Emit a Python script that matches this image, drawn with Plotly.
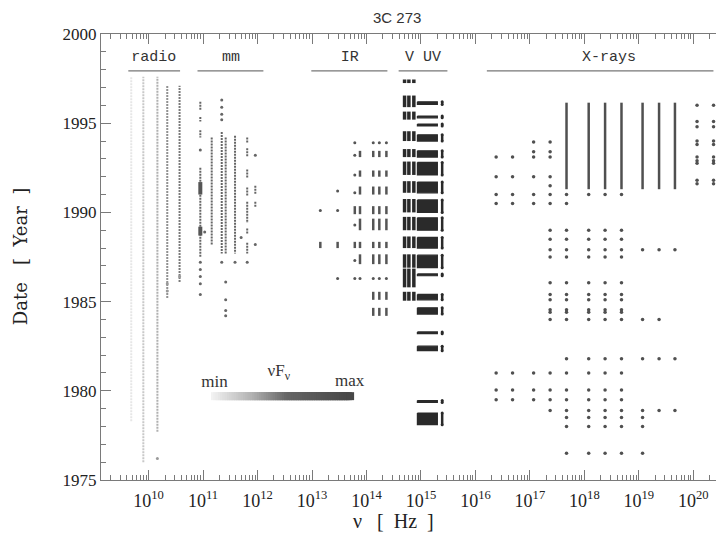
import plotly.graph_objects as go

# ---------------- data (frequencies in Hz, dates in years) ----------------
# radio monitoring columns (continuous coverage)
radio_freq = [4.8e9, 8.0e9, 14.5e9, 22.0e9, 37.0e9]
radio_first = [1978.3, 1976.0, 1977.7, 1985.2, 1986.1]
radio_last = [1997.6, 1997.6, 1997.6, 1997.1, 1997.1]
radio_dot_freq = [14.5e9, 22.0e9, 22.0e9, 37.0e9]
radio_dot_year = [1976.2, 1985.6, 1986.0, 1986.4]

# millimetre
mm_freq = [8.9e10, 1.44e11, 2.2e11, 2.6e11, 3.86e11, 6.46e11, 9.1e11]
mm_run_col = [0, 0, 0, 0, 1, 2, 3, 4, 5, 5, 5, 5, 5, 5, 5, 6, 6]
mm_run_top = [1996.2, 1995.35, 1994.6, 1992.5, 1994.2, 1994.5, 1994.2, 1994.3,
              1994.2, 1993.6, 1992.4, 1991.4, 1990.6, 1989.1, 1988.3, 1991.5, 1990.6]
mm_run_bot = [1995.7, 1995.1, 1994.2, 1987.5, 1988.2, 1987.7, 1987.7, 1987.7,
              1993.9, 1993.1, 1991.9, 1990.9, 1989.4, 1988.8, 1987.7, 1991.0, 1990.3]
mm_dense_top = [1991.7, 1989.2]
mm_dense_bot = [1991.0, 1988.7]
mm_dot_freq = [8.9e10, 8.9e10, 8.9e10, 8.9e10, 8.9e10, 8.9e10,
               2.2e11, 2.2e11, 2.2e11, 2.2e11, 2.2e11,
               2.6e11, 2.6e11, 2.6e11, 2.6e11, 3.86e11, 6.46e11,
               9.1e11, 9.1e11, 1.07e11, 5.0e11]
mm_dot_year = [1993.5, 1987.2, 1986.8, 1986.4, 1986.0, 1985.4,
               1996.3, 1995.9, 1995.5, 1995.2, 1987.2,
               1986.1, 1985.1, 1984.5, 1984.2, 1987.2, 1987.2,
               1993.2, 1988.2, 1988.9, 1988.6]

# infrared
ir_freq = [1.42e13, 2.95e13, 6.1e13, 7.6e13, 1.33e14, 1.72e14, 2.32e14]
ir_row_top = [1993.45, 1992.35, 1991.45, 1990.35, 1989.65, 1988.35, 1987.65, 1985.55, 1984.65]
ir_row_bot = [1993.1, 1992.0, 1991.0, 1989.9, 1989.0, 1988.0, 1987.1, 1985.1, 1984.2]
ir_row_cols = [[3, 4, 5, 6], [3, 4, 5, 6], [3, 4, 5, 6], [2, 3, 4, 5, 6], [3, 4, 5, 6],
               [0, 1, 2, 3, 4, 5, 6], [3, 4, 5, 6], [4, 5, 6], [4, 5, 6]]
ir_dot_col = [2, 4, 5, 6, 2, 2, 2, 1, 0, 1, 2, 2, 1, 2, 3, 4, 5, 6]
ir_dot_year = [1993.9, 1993.9, 1993.9, 1993.9, 1993.2, 1992.1, 1991.1, 1991.2, 1990.1,
               1990.1, 1989.3, 1987.3, 1986.3, 1986.3, 1986.3, 1986.3, 1986.3, 1986.3]

# optical (three filters) and ultraviolet
opt_freq = [5.0e14, 6.0e14, 7.4e14]
opt_top = [1997.45, 1996.55, 1995.65, 1994.55, 1993.55, 1992.85, 1991.75, 1990.75,
           1989.75, 1988.65, 1987.65, 1986.85, 1985.55]
opt_bot = [1997.25, 1995.9, 1995.2, 1994.0, 1993.1, 1992.1, 1991.1, 1990.0,
           1989.0, 1988.0, 1986.9, 1985.8, 1985.05]
uv_lo = 8.6e14
uv_hi = 2.0e15
uv_edge = 2.45e15
uv_top = [1996.2, 1995.4, 1994.95, 1994.35, 1993.45, 1992.8, 1991.7, 1990.7, 1989.7,
          1988.6, 1987.6, 1986.55, 1985.4, 1984.65, 1983.3, 1982.5, 1979.45, 1978.75]
uv_bot = [1996.05, 1995.3, 1994.85, 1994.0, 1993.1, 1992.1, 1991.1, 1990.0, 1989.0,
          1988.0, 1986.9, 1986.45, 1985.1, 1984.3, 1983.2, 1982.25, 1979.35, 1978.1]

# X-rays
xr_freq = [2.4e16, 4.8e16, 1.17e17, 2.35e17, 4.7e17, 1.2e18, 2.4e18, 4.8e18,
           1.17e19, 2.35e19, 4.6e19, 1.17e20, 2.35e20, 5.6e20]
xr_line_cols = [4, 5, 6, 7, 8, 9, 10]
xr_line_top = 1996.15
xr_line_bot = 1991.3
xr_row_year = [1996.0, 1995.1, 1995.0, 1994.8, 1994.0, 1993.95, 1993.8, 1993.4, 1993.1,
               1992.9, 1992.75, 1992.0, 1991.8, 1991.6, 1991.5, 1991.0, 1990.5, 1990.0,
               1989.0, 1988.5, 1987.9, 1987.5, 1986.05, 1985.4, 1985.1, 1985.0, 1984.55,
               1984.4, 1984.0, 1981.8, 1981.0, 1980.05, 1979.5, 1978.9, 1978.5, 1978.0, 1976.5]
xr_row_cols = [[11, 12], [11, 12], [13], [11, 12], [11, 12], [2, 3], [11, 12], [2, 3],
               [0, 1, 2, 3, 11, 12], [11, 12], [11, 12], [0, 1, 2, 3], [11, 12], [11, 12], [3],
               [0, 1, 2, 3, 4, 5, 6, 7], [0, 1, 2, 3, 4], [13],
               [3, 4, 5, 6, 7], [3, 4, 5, 6, 7], [3, 4, 5, 6, 7, 8, 9, 10], [3, 4, 5, 6, 7],
               [3, 4, 5, 6, 7], [3, 4, 5, 6, 7], [3, 4, 5, 6, 7], [13], [3, 4, 5, 6, 7],
               [3, 4, 5, 6, 7], [3, 4, 5, 6, 7, 8, 9], [4, 5, 6, 7, 8, 9, 10],
               [0, 1, 2, 3, 4, 5, 6, 7], [0, 1, 2, 3, 4, 5, 6, 7, 13], [0, 1, 2, 3, 4, 5, 6, 7],
               [3, 4, 5, 6, 7, 8, 9, 10], [4, 5, 6, 7, 8], [4, 5, 6, 7, 8], [4, 5, 6, 7, 8]]

# axis tick decades
x_decades = [10, 11, 12, 13, 14, 15, 16, 17, 18, 19, 20]

# band labels
band_names = ["radio", "mm", "IR", "V UV", "X-rays"]
band_center = [1.24e10, 3.24e11, 4.94e13, 1.09e15, 2.82e18]
band_lo = [4.24e9, 7.9e10, 9.7e12, 3.89e14, 1.62e16]
band_hi = [3.78e10, 1.28e12, 2.42e14, 3.06e15, 2.34e20]
band_label_year = 1998.72
band_line_year = 1997.93

# nuFnu scale legend
scale_levels = [i / 59 for i in range(60)]
scale_lo, scale_hi = 1.65e11, 5.0e13
scale_year = 1979.7

# ---------------- styles ----------------
radio_colors = ["#e6e6e6", "#c8c8c8", "#b0b0b0", "#919191", "#7a7a7a"]
MM_C = "#666666"
IR_C = "#555555"
OPT_C = "#2a2a2a"
XR_C = "#505050"
SERIF = "Liberation Serif, DejaVu Serif, serif"
WIDE_SERIF = "DejaVu Serif, Liberation Serif, serif"
MONO = "Liberation Mono, DejaVu Sans Mono, monospace"

fig = go.Figure()


def vsegs(freqs, tops, bots):
    xs, ys = [], []
    for f, t, b in zip(freqs, tops, bots):
        xs += [f, f, None]
        ys += [t, b, None]
    return xs, ys


# radio
for f, a, b, c in zip(radio_freq, radio_first, radio_last, radio_colors):
    fig.add_trace(go.Scatter(x=[f, f], y=[a, b], mode="lines",
                             line=dict(color=c, width=2, dash="2px,1px")))
fig.add_trace(go.Scatter(x=radio_dot_freq, y=radio_dot_year, mode="markers",
                         marker=dict(color="#9a9a9a", size=3)))

# mm
xs, ys = vsegs([mm_freq[c] for c in mm_run_col], mm_run_top, mm_run_bot)
fig.add_trace(go.Scatter(x=xs, y=ys, mode="lines", line=dict(color=MM_C, width=2, dash="2px,1px")))
xs, ys = vsegs([mm_freq[0]] * len(mm_dense_top), mm_dense_top, mm_dense_bot)
fig.add_trace(go.Scatter(x=xs, y=ys, mode="lines", line=dict(color="#555555", width=4)))
fig.add_trace(go.Scatter(x=mm_dot_freq, y=mm_dot_year, mode="markers",
                         marker=dict(color=MM_C, size=3)))

# IR
fx, ft, fb = [], [], []
for t, b, cols in zip(ir_row_top, ir_row_bot, ir_row_cols):
    for c in cols:
        fx.append(ir_freq[c]); ft.append(t); fb.append(b)
xs, ys = vsegs(fx, ft, fb)
fig.add_trace(go.Scatter(x=xs, y=ys, mode="lines", line=dict(color=IR_C, width=2.5)))
fig.add_trace(go.Scatter(x=[ir_freq[c] for c in ir_dot_col], y=ir_dot_year, mode="markers",
                         marker=dict(color=IR_C, size=3)))

# optical
fx, ft, fb = [], [], []
for t, b in zip(opt_top, opt_bot):
    for f in opt_freq:
        fx.append(f); ft.append(t); fb.append(b)
xs, ys = vsegs(fx, ft, fb)
fig.add_trace(go.Scatter(x=xs, y=ys, mode="lines", line=dict(color=OPT_C, width=3.5)))

# UV blocks
xs, ys = [], []
for t, b in zip(uv_top, uv_bot):
    xs += [uv_lo, uv_hi, uv_hi, uv_lo, uv_lo, None]
    ys += [t, t, b, b, t, None]
fig.add_trace(go.Scatter(x=xs, y=ys, mode="lines", fill="toself", fillcolor=OPT_C,
                         line=dict(color=OPT_C, width=1.2)))
xs, ys = vsegs([uv_edge] * len(uv_top), uv_top, uv_bot)
fig.add_trace(go.Scatter(x=xs, y=ys, mode="lines+markers", line=dict(color=OPT_C, width=2.5),
                         marker=dict(color=OPT_C, size=3)))

# X-rays
xs, ys = vsegs([xr_freq[c] for c in xr_line_cols], [xr_line_top] * len(xr_line_cols),
               [xr_line_bot] * len(xr_line_cols))
fig.add_trace(go.Scatter(x=xs, y=ys, mode="lines", line=dict(color=XR_C, width=2.5)))
px, py = [], []
for yv, cols in zip(xr_row_year, xr_row_cols):
    for c in cols:
        px.append(xr_freq[c]); py.append(yv)
fig.add_trace(go.Scatter(x=px, y=py, mode="markers", marker=dict(color=XR_C, size=3.5)))

# band labels and their underlines
xs, ys = [], []
for lo, hi in zip(band_lo, band_hi):
    xs += [lo, hi, None]
    ys += [band_line_year, band_line_year, None]
fig.add_trace(go.Scatter(x=xs, y=ys, mode="lines", line=dict(color="#777777", width=1.2)))
fig.add_trace(go.Scatter(x=band_center, y=[band_label_year] * len(band_names), mode="text",
                         text=band_names, textfont=dict(family=MONO, size=15, color="#333333")))

# nuFnu gradient legend
n = len(scale_levels)
scale_x = [scale_lo * (scale_hi / scale_lo) ** (i / (n - 1)) for i in range(n)]
fig.add_trace(go.Scatter(x=scale_x, y=[scale_year] * n, mode="markers",
                         marker=dict(symbol="square", size=8, color=scale_levels,
                                     colorscale=[[0, "#f2f2f2"], [0.3, "#b0b0b0"],
                                                 [0.55, "#666666"], [1, "#484848"]],
                                     line=dict(width=0))))
fig.add_trace(go.Scatter(x=[1.62e11, 2.45e12, 4.9e13], y=[1980.45, 1981.05, 1980.5], mode="text",
                         text=["min", "νF<sub>ν</sub>", "max"],
                         textfont=dict(family=SERIF, size=17, color="#333333")))

x_tickvals = [10.0 ** d for d in x_decades]
x_ticktext = ["10<sup>%d</sup>" % d for d in x_decades]
minor_x = [float(k) * 10.0 ** e for e in range(9, 21) for k in range(2, 10)]

axis_common = dict(showline=True, linecolor="#7a7a7a", linewidth=1, mirror="ticks",
                   ticks="inside", tickcolor="#7a7a7a", showgrid=False, zeroline=False,
                   automargin=False)
fig.update_layout(
    width=724, height=535,
    margin=dict(l=93, r=0, t=26, b=63),
    paper_bgcolor="white", plot_bgcolor="white",
    showlegend=False,
    xaxis=dict(type="log", range=[9.126, 20.71], tickmode="array", tickvals=x_tickvals,
               ticktext=x_ticktext, tickangle=0, ticklabelstandoff=4,
               ticklen=10, tickfont=dict(family=SERIF, size=18, color="#222222"),
               minor=dict(ticks="inside", ticklen=5, tickcolor="#7a7a7a", tickvals=minor_x),
               **axis_common),
    yaxis=dict(range=[1975, 2000], dtick=5, ticklen=10,
               tickfont=dict(family=SERIF, size=17, color="#222222"),
               minor=dict(ticks="inside", ticklen=5, dtick=1, tickcolor="#7a7a7a"),
               **axis_common),
    annotations=[
        dict(text="3C 273", xref="paper", yref="paper", x=0.469, y=1.038,
             xanchor="center", yanchor="middle", showarrow=False,
             font=dict(family="Liberation Sans, Arial, sans-serif", size=15, color="#333333")),
        dict(text="ν   [  Hz  ]", xref="paper", yref="paper", x=0.464, y=-0.092,
             xanchor="center", yanchor="middle", showarrow=False,
             font=dict(family=SERIF, size=20, color="#222222")),
        dict(text="Date   [  Year  ]", xref="paper", yref="paper", x=-0.128, y=0.5,
             xanchor="center", yanchor="middle", textangle=-90,
             showarrow=False, font=dict(family=WIDE_SERIF, size=18, color="#222222")),
    ],
)

fig.write_html("out.html")
